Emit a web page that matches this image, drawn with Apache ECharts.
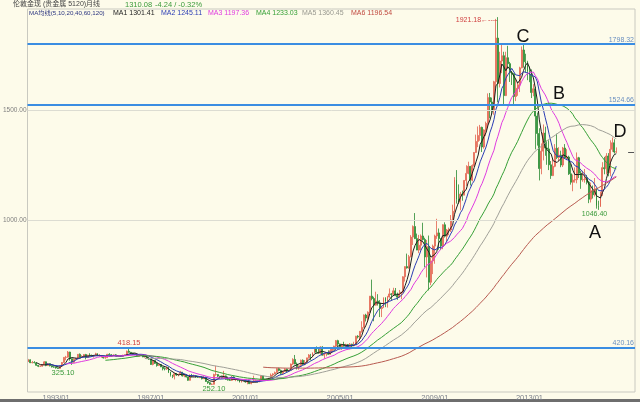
<!DOCTYPE html>
<html><head><meta charset="utf-8">
<script src="https://cdn.jsdelivr.net/npm/echarts@6/dist/echarts.min.js"></script>
<style>html,body{margin:0;padding:0;background:#fdfbea;}#c{width:640px;height:402px;}</style>
</head><body><div id="c"></div>
<script>
// Monthly London gold, 1991/11 .. 2016/09
const startYear = 1991, startMonth = 11, slotCount = 308;
const tickLabels = ['1993/01','1997/01','2001/01','2005/01','2009/01','2013/01'];
const opens = [
357,366,
353,354,353,341,337,337,343,357,340,349,339,334,
333,329,327,337,354,377,378,401,371,355,369,371,
391,378,381,390,377,387,385,384,386,394,383,383,
383,375,376,391,389,384,387,383,382,384,383,387,
387,405,400,396,392,391,382,385,387,379,379,371,
369,345,363,350,340,345,334,326,325,332,311,296,
290,303,297,301,310,293,296,288,273,294,292,294,
288,287,287,280,286,268,262,255,255,299,299,292,
290,283,293,277,274,273,288,276,277,273,265,270,
272,266,267,258,264,267,271,266,273,293,279,275,
279,282,297,302,308,326,318,305,313,324,317,319,
347,368,347,335,339,364,346,354,375,388,386,398,
416,400,396,424,387,393,396,391,407,416,428,453,
438,423,435,428,435,417,437,430,433,473,470,495,
513,569,556,582,655,644,614,633,624,599,604,646,
632,651,665,663,679,659,650,665,673,743,789,783,
834,923,971,916,864,886,928,912,833,880,718,815,
882,928,942,916,883,979,927,955,955,1001,1040,1182,
1096,1081,1118,1113,1180,1212,1244,1181,1248,1307,1357,1384,
1421,1332,1409,1439,1556,1536,1500,1628,1826,1620,1722,1746,
1565,1737,1710,1669,1664,1561,1598,1614,1691,1772,1719,1712,
1675,1663,1579,1596,1472,1393,1234,1313,1395,1327,1323,1251,
1202,1244,1326,1284,1295,1250,1327,1282,1286,1210,1172,1182,
1184,1283,1213,1183,1184,1190,1172,1095,1134,1115,1142,1065,
1061,1118,1238,1233,1291,1215,1321,1351,1309];
const highs = [
370,368,
361,360,355,342,340,345,360,358,350,350,340,337,
334,331,338,356,378,384,406,403,372,372,376,392,
395,387,392,393,389,396,390,388,398,396,392,385,
384,380,393,396,392,391,391,390,387,387,389,391,
408,418.15,402,398,394,392,388,389,388,385,383,373,
370,365,364,352,348,346,335,332,335,335,312,298,
307,305,302,316,311,298,299,290,300,302,299,297,
293,292,291,292,290,269,265,259,303,339,301,293,
292,316,295,290,280,293,291,281,279,275,271,275,
273,271,271,266,294,277,272,278,295,293,280,280,
284,304,305,313,328,330,322,316,327,326,320,349,
373,388,354,340,367,368,365,375,392,393,400,418,
427,419,428,428,396,400,409,418,419,430,456,457,
440,439,448,439,438,442,439,448,475,478,497,541,
572,575,586,655,730,652,675,664,637,611,650,650,
656,690,669,693,692,671,683,675,745,790,848,842,
932,976,1032,939,933,935,988,920,910,930,829,889,
934,1006,962,916,981,990,960,966,1023,1070,1195,1227,
1162,1128,1134,1182,1249,1265,1245,1253,1308,1388,1425,1432,
1424,1412,1447,1575,1577,1556,1632,1913,1921.18,1764,1803,1764,
1764,1791,1718,1677,1667,1640,1627,1696,1788,1798.32,1755,1723,
1697,1684,1617,1605,1488,1417,1348,1434,1424,1361,1362,1268,
1279,1345,1392,1331,1315,1332,1345,1322,1292,1256,1207,1239,
1307,1287,1224,1224,1232,1205,1178,1170,1157,1191,1142,1088,
1129,1263,1287,1304,1304,1362,1375,1367,1330];
const lows = [
356,351,
350,350,339,333,334,335,342,337,339,336,331,330,
326,326,325.1,336,353,364,376,362,343,352,366,369,
375,375,377,368,374,381,380,376,385,383,380,375,
372,371,374,387,382,383,380,379,381,381,382,385,
386,398,393,388,388,380,380,384,378,377,371,366,
343,341,347,335,339,333,318,318,320,306,290,283,
277,293,291,298,290,287,286,271,272,287,290,285,
284,283,277,279,266,257,253,252.1,254,294,288,279,
281,281,276,272,271,270,276,269,269,263,263,267,
262,255,256,255,263,264,264,265,270,276,272,271,
277,281,289,300,307,314,298,300,311,310,313,318,
343,346,322,321,338,341,341,350,372,364,378,397,
399,393,391,385,372,382,388,390,398,411,424,427,
415,411,426,422,414,414,417,429,432,463,458,489,
513,540,538,581,636,541,612,612,560,560,601,605,
603,648,637,661,655,638,648,641,667,721,780,780,
831,887,914,866,850,862,907,786,740,681,705,755,
802,915,866,865,868,921,905,932,946,1000,1035,1075,
1073,1045,1088,1113,1155,1208,1157,1176,1243,1305,1331,1360,
1309,1324,1381,1418,1462,1478,1478,1600,1535,1602,1667,1523,
1563,1687,1627,1613,1527,1540,1564,1581,1689,1692,1672,1635,
1626,1554,1562,1321,1338,1180,1208,1271,1292,1251,1227,1187,
1200,1240,1277,1268,1240,1241,1281,1272,1205,1161,1131,1170,
1167,1191,1142,1174,1170,1162,1077,1080,1098,1107,1052,1046.4,
1061,1110,1208,1207,1199,1199,1310,1302,1305];
const closes = [
366,353,
354,353,341,337,337,343,357,340,349,339,334,333,
329,327,337,354,377,378,401,371,355,369,371,391,
378,381,390,377,387,385,384,386,394,383,383,383,
375,376,391,389,384,387,383,382,384,383,387,387,
405,400,396,392,391,382,385,387,379,379,371,369,
345,363,350,340,345,334,326,325,332,311,296,290,
303,297,301,310,293,296,288,273,294,292,294,288,
287,287,280,286,268,262,255,255,299,299,292,290,
283,293,277,274,273,288,276,277,273,265,270,272,
266,267,258,264,267,271,266,273,293,279,275,279,
282,297,302,308,326,318,305,313,324,317,319,347,
368,347,335,339,364,346,354,375,388,386,398,416,
400,396,424,387,393,396,391,407,416,428,453,438,
423,435,428,435,417,437,430,433,473,470,495,513,
569,556,582,655,644,614,633,624,599,604,646,632,
651,665,663,679,659,650,665,673,743,789,783,834,
923,971,916,864,886,928,912,833,880,718,815,882,
928,942,916,883,979,927,955,955,1001,1040,1182,1096,
1081,1118,1113,1180,1212,1244,1181,1248,1307,1357,1384,1421,
1332,1409,1439,1556,1536,1500,1628,1826,1620,1722,1746,1565,
1737,1710,1669,1664,1561,1598,1614,1691,1772,1719,1712,1675,
1663,1579,1596,1472,1393,1234,1313,1395,1327,1323,1251,1202,
1244,1326,1284,1295,1250,1327,1282,1286,1210,1172,1182,1184,
1283,1213,1183,1184,1190,1172,1095,1134,1115,1142,1065,1061,
1118,1238,1233,1291,1215,1321,1351,1309,1310.08];
const maPeriods = [5,10,20,40,60,120];
const maColors = ['#1e1e1e','#2b3db4','#e03ce0','#36a036','#a0a098','#b85a50'];
const levels = [1798.32,1524.66,420.16];
const gridValues = [1000,1500];

const months = [];
for (let i = 0; i < slotCount; i++) {
  const m0 = startMonth - 1 + i;
  const y = startYear + Math.floor(m0 / 12), m = m0 % 12 + 1;
  months.push(y + '/' + (m < 10 ? '0' + m : m));
}
const candles = opens.map((o, i) => [o, closes[i], lows[i], highs[i]]);
function ma(n) {
  return closes.map((c, i) => {
    if (i < n - 1) return null;
    let s = 0; for (let k = i - n + 1; k <= i; k++) s += closes[k];
    return +(s / n).toFixed(2);
  });
}
const F = 'Liberation Sans, Arial, sans-serif';
const CJK = 'Liberation Sans, Noto Sans CJK SC, sans-serif';
const lastIdx = closes.length - 1;

const chart = echarts.init(document.getElementById('c'), null, {renderer: 'canvas'});
chart.setOption({
  animation: false,
  backgroundColor: '#fdfbea',
  grid: {left: 26, right: 5, top: 9, bottom: 10, show: true, borderColor: '#c9c9c0', borderWidth: 1, backgroundColor: '#fdfbea'},
  xAxis: {
    type: 'category', data: months, boundaryGap: true,
    axisLine: {show: false}, axisTick: {show: false}, splitLine: {show: false},
    axisLabel: {interval: (i, v) => tickLabels.includes(v), color: '#7a7f8a', fontSize: 7.5, fontFamily: F, margin: 2}
  },
  yAxis: {
    type: 'value', min: 220, max: 1958,
    axisLine: {show: false}, axisTick: {show: false}, splitLine: {show: false},
    axisLabel: {customValues: gridValues, formatter: v => v.toFixed(2), color: '#808080', fontSize: 6.5, fontFamily: F, margin: 1}
  },
  series: [
    {
      type: 'candlestick', data: candles, barWidth: '72%',
      itemStyle: {color: '#f2a08c', color0: '#33a03c', borderColor: '#e2624e', borderColor0: '#2a8a32', borderWidth: 0.8},
      markLine: {
        silent: true, symbol: ['none', 'none'], animation: false,
        data: gridValues.map(v => ({yAxis: v, lineStyle: {color: '#dcdcd2', width: 1, type: 'solid'}, label: {show: false}}))
          .concat(levels.map(v => ({yAxis: v, lineStyle: {color: '#3a8de2', width: 2, type: 'solid'},
            label: {show: true, position: 'insideEndTop', distance: 1, formatter: v.toFixed(2), color: '#6a8fc0', fontSize: 7, fontFamily: F}})))
          .concat([[{coord: [months[304], closes[lastIdx]], lineStyle: {color: '#555', width: 1, type: 'solid'}, label: {show: false}},
                    {coord: [months[slotCount - 1], closes[lastIdx]]}]])
      },
      markPoint: {
        silent: true, symbol: 'circle', symbolSize: 1, itemStyle: {color: 'rgba(0,0,0,0)'},
        data: [
          {coord: ['2011/09', 1921.18], label: {show: true, position: 'left', distance: 0, formatter: '1921.18←----', color: '#d04040', fontSize: 7, fontFamily: F, offset: [0, 3]}},
          {coord: ['1996/02', 418.15], label: {show: true, position: 'top', distance: 1, formatter: '418.15', color: '#d04040', fontSize: 7.5, fontFamily: F}},
          {coord: ['1993/03', 325.1], label: {show: true, position: 'bottom', distance: 0, formatter: '325.10', color: '#3a9a3a', fontSize: 7.5, fontFamily: F, offset: [3, 0]}},
          {coord: ['1999/08', 252.1], label: {show: true, position: 'bottom', distance: 0, formatter: '252.10', color: '#3a9a3a', fontSize: 7.5, fontFamily: F, offset: [2, 0]}},
          {coord: ['2015/12', 1046.4], label: {show: true, position: 'bottom', distance: 0, formatter: '1046.40', color: '#3a9a3a', fontSize: 7, fontFamily: F, offset: [-4, 0]}}
        ]
      }
    }
  ].concat(maPeriods.map((n, k) => ({
    type: 'line', name: 'MA' + n, data: ma(n), symbol: 'none', showSymbol: false, connectNulls: false,
    lineStyle: {color: maColors[k], width: 1}, itemStyle: {color: maColors[k]}, silent: true, z: 3
  }))),
  graphic: [
    {type: 'text', left: 13, top: 1, style: {text: '伦敦金现 (贵金属 5120)月线', fill: '#444', font: '7px ' + CJK}},
    {type: 'text', left: 125, top: 1, style: {text: '1310.08', fill: '#3a9a3a', font: '7.5px ' + F}},
    {type: 'text', left: 155, top: 1, style: {text: '-4.24 / -0.32%', fill: '#3a9a3a', font: '7.5px ' + F}},
    {type: 'text', left: 29, top: 10, style: {text: 'MA均线(5,10,20,40,60,120)', fill: '#2b3580', font: '6.2px ' + CJK}},
    {type: 'text', left: 113, top: 10, style: {text: 'MA1 1301.41', fill: '#222', font: '7px ' + F}},
    {type: 'text', left: 161, top: 10, style: {text: 'MA2 1245.11', fill: '#2b3db4', font: '7px ' + F}},
    {type: 'text', left: 208, top: 10, style: {text: 'MA3 1197.36', fill: '#e03ce0', font: '7px ' + F}},
    {type: 'text', left: 256, top: 10, style: {text: 'MA4 1233.03', fill: '#36a036', font: '7px ' + F}},
    {type: 'text', left: 302, top: 10, style: {text: 'MA5 1360.45', fill: '#999990', font: '7px ' + F}},
    {type: 'text', left: 351, top: 10, style: {text: 'MA6 1196.54', fill: '#c04a40', font: '7px ' + F}},
    {type: 'text', x: 523, y: 37, style: {text: 'C', fill: '#111', font: '18px ' + F, align: 'center', verticalAlign: 'middle'}},
    {type: 'text', x: 559, y: 94, style: {text: 'B', fill: '#111', font: '18px ' + F, align: 'center', verticalAlign: 'middle'}},
    {type: 'text', x: 620, y: 132, style: {text: 'D', fill: '#111', font: '18px ' + F, align: 'center', verticalAlign: 'middle'}},
    {type: 'text', x: 595, y: 233, style: {text: 'A', fill: '#111', font: '18px ' + F, align: 'center', verticalAlign: 'middle'}},
    {type: 'rect', shape: {x: 0, y: 399, width: 640, height: 3}, style: {fill: '#6e6e6e'}}
  ]
});
</script></body></html>
